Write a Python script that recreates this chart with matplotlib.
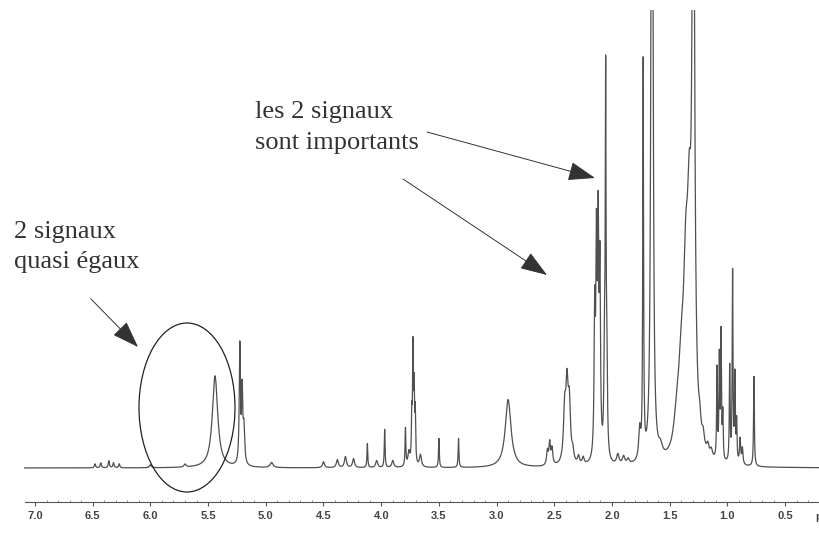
"""1H NMR spectrum with the two annotations (signaux)."""
import matplotlib.pyplot as plt
import numpy as np
from matplotlib.patches import Ellipse

# peak list: position (ppm), height (baseline = 0), half width (ppm)
peak_ppm = [6.48, 6.43, 6.36, 6.32, 6.27, 6.00, 5.70,
            5.44, 5.225, 5.205, 5.19, 4.95,
            4.50, 4.38, 4.31, 4.24, 4.12, 4.04, 3.97, 3.90,
            3.79, 3.76, 3.735, 3.725, 3.715, 3.705, 3.66, 3.50, 3.33,
            2.90, 2.56, 2.54, 2.52, 2.41, 2.39, 2.37, 2.34, 2.29, 2.25,
            2.15, 2.135, 2.12, 2.105, 2.065, 2.055, 2.045,
            1.95, 1.90, 1.86, 1.76, 1.73, 1.66, 1.65, 1.58,
            1.44, 1.40, 1.36, 1.33, 1.295, 1.24, 1.21, 1.17, 1.14,
            1.09, 1.07, 1.055, 1.04, 0.98, 0.955, 0.935, 0.92,
            0.89, 0.87, 0.77]
peak_height = [4, 5, 7, 5, 4, 3, 3,
               92, 118, 70, 35, 5,
               6, 8, 11, 9, 24, 7, 38, 7,
               38, 14, 45, 112, 70, 50, 12, 29, 29,
               68, 14, 22, 16, 50, 70, 55, 10, 8, 7,
               140, 200, 215, 180, 100, 355, 90,
               10, 8, 5, 30, 395, 300, 640, 10,
               25, 70, 150, 170, 700, 16, 13, 10, 8,
               90, 100, 125, 45, 95, 190, 85, 40,
               25, 16, 90]
peak_width = [0.006, 0.006, 0.006, 0.006, 0.006, 0.01, 0.01,
              0.028, 0.006, 0.006, 0.008, 0.015,
              0.01, 0.01, 0.01, 0.01, 0.004, 0.01, 0.004, 0.01,
              0.004, 0.01, 0.004, 0.004, 0.004, 0.004, 0.01, 0.004, 0.004,
              0.03, 0.008, 0.008, 0.008, 0.012, 0.012, 0.012, 0.01, 0.01, 0.01,
              0.006, 0.006, 0.006, 0.006, 0.006, 0.004, 0.006,
              0.012, 0.012, 0.012, 0.01, 0.004, 0.008, 0.008, 0.02,
              0.03, 0.03, 0.025, 0.02, 0.012, 0.012, 0.012, 0.012, 0.012,
              0.004, 0.004, 0.004, 0.004, 0.004, 0.004, 0.004, 0.004,
              0.006, 0.006, 0.004]

tick_values = [7.0, 6.5, 6.0, 5.5, 5.0, 4.5, 4.0, 3.5, 3.0, 2.5, 2.0, 1.5, 1.0, 0.5]

note_left = ["2 signaux", "quasi égaux"]
note_right = ["les 2 signaux", "sont importants"]

W, H = 819, 533
fig = plt.figure(figsize=(W / 100, H / 100), dpi=100)
ax = fig.add_axes([0, (H - 502) / H, 1, (502 - 10) / H])

ppm = np.linspace(7.09, 0.2, 30000)
spec = np.zeros_like(ppm)
for p0, h, w in zip(peak_ppm, peak_height, peak_width):
    spec += h * w**2 / ((ppm - p0)**2 + w**2)

ax.plot(ppm, spec, color="#505050", lw=0.9)
ax.set_xlim(7.3033, 0.2062)
ax.set_ylim(-34, 458)

for s in ["top", "left", "right"]:
    ax.spines[s].set_visible(False)
ax.spines["bottom"].set_color("#555555")
ax.spines["bottom"].set_linewidth(0.8)
ax.spines["bottom"].set_bounds(7.09, 0.2)
ax.set_yticks([])
ax.set_xticks(tick_values)
ax.set_xticklabels([f"{v:.1f}" for v in tick_values])
ax.set_xticks(np.arange(0.3, 7.05, 0.1), minor=True)
ax.tick_params(axis="x", which="major", direction="out", length=3, width=0.8,
               color="#555555", pad=3.5, labelsize=8, labelcolor="#444444")
ax.tick_params(axis="x", which="minor", direction="in", length=1.5, width=0.6,
               color="#777777")
for lab in ax.get_xticklabels():
    lab.set_fontfamily("Liberation Sans")
    lab.set_fontweight("bold")
# unit label, cut by the right edge as in the scan
fig.text(815 / W, 1 - 517 / H, "ppm", fontsize=8, fontweight="bold",
         family="Liberation Sans", color="#444444", va="center", ha="left")

# annotations
txt = dict(fontsize=19, family="Liberation Serif", color="#333333", va="baseline")
fig.text(14 / W, 1 - 238 / H, note_left[0], **txt)
fig.text(14 / W, 1 - 268 / H, note_left[1], **txt)
fig.text(255 / W, 1 - 118 / H, note_right[0], **txt)
fig.text(255 / W, 1 - 149 / H, note_right[1], **txt)

arrows = [((427, 132), (595, 178)), ((403, 179), (547, 275)), ((91, 299), (138, 347))]
for (x0, y0), (x1, y1) in arrows:
    ax.annotate("", xy=(x1, H - y1), xytext=(x0, H - y0),
                xycoords="figure pixels", textcoords="figure pixels",
                arrowprops=dict(arrowstyle="-|>,head_length=0.85,head_width=0.3",
                                mutation_scale=20, color="#333333", lw=0.7,
                                shrinkA=0, shrinkB=0))

fig.add_artist(Ellipse((187 / W, 1 - 407.5 / H), 96 / W, 169 / H,
                       transform=fig.transFigure, fill=False,
                       edgecolor="#222222", lw=0.9))

fig.savefig("out.png", dpi=100)
